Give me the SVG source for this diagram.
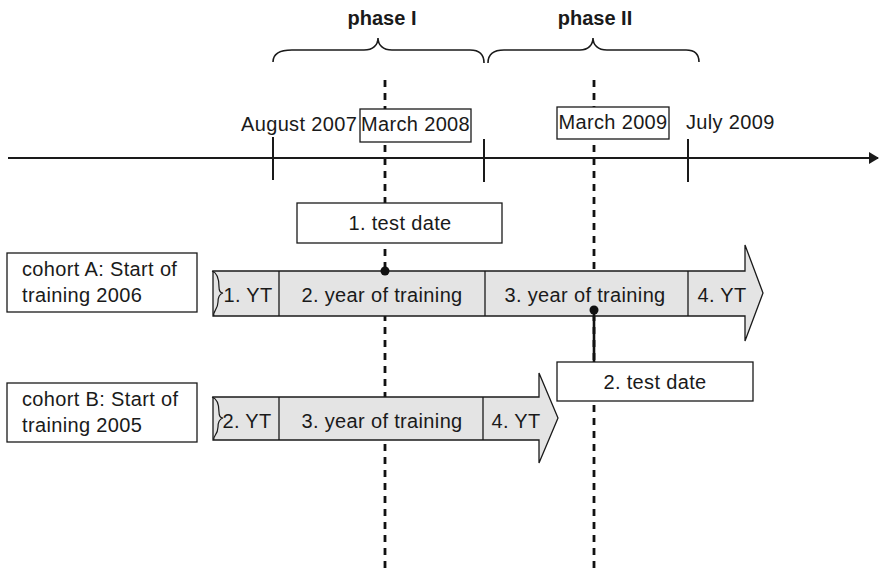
<svg xmlns="http://www.w3.org/2000/svg" width="879" height="574" viewBox="0 0 879 574">
  <style>
    text { font-family: "Liberation Sans", Arial, sans-serif; font-size: 20px; fill: #1a1a1a; letter-spacing: 0.35px; }
    .bold { font-weight: bold; letter-spacing: 0; }
    .mid { text-anchor: middle; }
    .box { fill: #fff; stroke: #1a1a1a; stroke-width: 1.3; }
    .bar { fill: #e4e4e4; stroke: #1a1a1a; stroke-width: 1.3; stroke-linejoin: miter; }
    .div { stroke: #1a1a1a; stroke-width: 1.3; }
    .axis { stroke: #1a1a1a; stroke-width: 2; fill: none; }
    .tick { stroke: #1a1a1a; stroke-width: 2; }
    .dash { stroke: #111; stroke-width: 2.8; stroke-dasharray: 7 6; fill: none; }
    .brace { stroke: #1a1a1a; stroke-width: 1.6; fill: none; }
    .torn { stroke: #1a1a1a; stroke-width: 1.2; fill: none; }
  </style>
  <defs>
    <marker id="axisHead" markerWidth="10" markerHeight="12" refX="9" refY="6" orient="auto" markerUnits="userSpaceOnUse">
      <path d="M0,0 L10,6 L0,12 Z" fill="#1a1a1a"/>
    </marker>
  </defs>

  <!-- connectors: time axis, date markers, braces -->
  <g id="connectors">
    <line class="dash" x1="385" y1="80" x2="385" y2="574"/>
    <line class="dash" x1="594" y1="80" x2="594" y2="574"/>
    <line class="axis" x1="8" y1="158" x2="878" y2="158" marker-end="url(#axisHead)"/>
    <line class="tick" x1="273" y1="137" x2="273" y2="180"/>
    <line class="tick" x1="484" y1="139" x2="484" y2="182"/>
    <line class="tick" x1="688" y1="139" x2="688" y2="182"/>
    <path class="brace" d="M273,62 C273,53 280,50 292,50 L364,50 C373,50 378,45 378,38 C378,45 383,50 392,50 L470,50 C479,50 484,54 484,63"/>
    <path class="brace" d="M488,63 C488,54 494,50 504,50 L580,50 C588,50 593,45 593,38 C593,45 598,50 607,50 L686,50 C695,50 699,54 699,62"/>
  </g>

  <g id="phase-1"><text class="bold mid" x="382" y="25">phase I</text></g>
  <g id="phase-2"><text class="bold mid" x="595" y="25">phase II</text></g>

  <g id="aug-2007"><text x="241" y="131">August 2007</text></g>
  <g id="mar-2008">
    <rect class="box" x="360" y="109" width="111" height="33"/>
    <text class="mid" x="415.5" y="131">March 2008</text>
  </g>
  <g id="mar-2009">
    <rect class="box" x="557" y="107" width="112" height="32"/>
    <text class="mid" x="613" y="129">March 2009</text>
  </g>
  <g id="jul-2009"><text x="686" y="129">July 2009</text></g>

  <g id="test-date-1">
    <rect class="box" x="297" y="203" width="205" height="40"/>
    <text class="mid" x="400" y="230">1. test date</text>
  </g>

  <!-- cohort A -->
  <g id="cohort-a">
    <rect class="box" x="7" y="253" width="190" height="59"/>
    <text x="22" y="276">cohort A: Start of</text>
    <text x="22" y="302">training 2006</text>
  </g>
  <g id="bar-a">
    <path class="bar" d="M213,271 L745,271 L745,245 L763,293 L745,341 L745,316 L213,316 Z"/>
    <path class="torn" d="M212,271 C218,273 219,281 219,287 C219,291 221,293 223,293 C220,294 218,297 218,302 C218,310 212,312 214,316"/>
    <line class="div" x1="279" y1="271" x2="279" y2="316"/>
    <line class="div" x1="485" y1="271" x2="485" y2="316"/>
    <line class="div" x1="688" y1="271" x2="688" y2="316"/>
    <text class="mid" x="248" y="302">1. YT</text>
    <text class="mid" x="382" y="302">2. year of training</text>
    <text class="mid" x="585" y="302">3. year of training</text>
    <text class="mid" x="722" y="302">4. YT</text>
    <circle cx="385" cy="271" r="4.5" fill="#111"/>
  </g>

  <!-- second test date, linked to cohort A -->
  <g id="test-date-2">
    <line x1="594" y1="310" x2="594" y2="362" stroke="#111" stroke-width="2.6"/>
    <circle cx="594" cy="310" r="4.5" fill="#111"/>
    <rect class="box" x="557" y="362" width="196" height="39"/>
    <text class="mid" x="655" y="389">2. test date</text>
  </g>

  <!-- cohort B -->
  <g id="cohort-b">
    <rect class="box" x="7" y="383" width="190" height="59"/>
    <text x="22" y="406">cohort B: Start of</text>
    <text x="22" y="432">training 2005</text>
  </g>
  <g id="bar-b">
    <path class="bar" d="M213,397 L539,397 L539,373 L558,418 L539,463 L539,440 L213,440 Z"/>
    <path class="torn" d="M212,397 C218,399 219,406 219,412 C219,416 221,418 223,418 C220,419 218,422 218,427 C218,435 212,437 214,440"/>
    <line class="div" x1="279" y1="397" x2="279" y2="440"/>
    <line class="div" x1="483" y1="397" x2="483" y2="440"/>
    <text class="mid" x="247" y="428">2. YT</text>
    <text class="mid" x="382" y="428">3. year of training</text>
    <text class="mid" x="516" y="428">4. YT</text>
  </g>
</svg>
